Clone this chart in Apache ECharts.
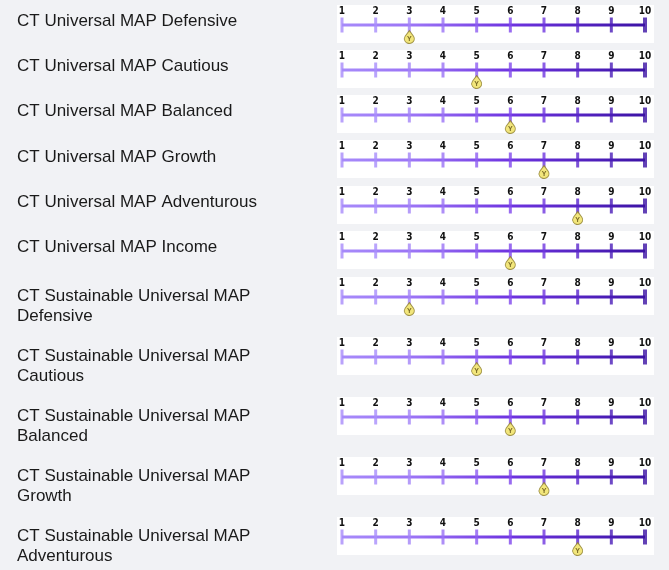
<!DOCTYPE html>
<html><head><meta charset="utf-8">
<script src="https://cdn.jsdelivr.net/npm/echarts@6/dist/echarts.min.js"></script>
<style>html,body{margin:0;padding:0;background:#f1f2f5;}#c{width:669px;height:570px;}</style>
</head><body><div id="c"></div>
<script>
const funds = [
  "CT Universal MAP Defensive",
  "CT Universal MAP Cautious",
  "CT Universal MAP Balanced",
  "CT Universal MAP Growth",
  "CT Universal MAP Adventurous",
  "CT Universal MAP Income",
  "CT Sustainable Universal MAP\nDefensive",
  "CT Sustainable Universal MAP\nCautious",
  "CT Sustainable Universal MAP\nBalanced",
  "CT Sustainable Universal MAP\nGrowth",
  "CT Sustainable Universal MAP\nAdventurous"
];
const riskLevels = [3, 5, 6, 7, 8, 6, 3, 5, 6, 7, 8];
const scaleTicks = [1, 2, 3, 4, 5, 6, 7, 8, 9, 10];
const markerText = "Y";

const tickColors = ["#a78bfa","#a88dfb","#a283f8","#9a72f5","#8d5cf1","#7f46ec","#6e34e0","#5a26cc","#4a1cb8","#3b12a4"];
const lineY = [25, 70, 115, 160, 206, 251, 297, 357, 417, 477, 537];
const textTop = [11, 56, 101, 147, 192, 237, 286, 346, 406, 466, 526];

const chart = echarts.init(document.getElementById('c'));
const grids = [], xAxes = [], yAxes = [], series = [], titles = [], graphics = [];
funds.forEach((name, i) => {
  const ly = lineY[i];
  grids.push({left: 342, width: 303, top: ly - 8, height: 16});
  xAxes.push({gridIndex: i, type: 'value', min: 1, max: 10, interval: 1, position: 'top',
    axisLine: {show: false}, axisTick: {show: false}, splitLine: {show: false},
    axisLabel: {margin: 1, color: '#111', fontSize: 10, fontWeight: 'bold', fontFamily: 'DejaVu Sans Condensed, DejaVu Sans'}});
  yAxes.push({gridIndex: i, type: 'value', min: -1, max: 1, show: false});
  graphics.push({type: 'rect', shape: {x: 337, y: ly - 20, width: 317, height: 38}, style: {fill: '#ffffff'}, z: -1});
  titles.push({text: name, left: 17, top: textTop[i], padding: 0,
    textStyle: {fontSize: 17, fontWeight: 'normal', color: '#1a1a1a', fontFamily: 'Liberation Sans, Arial', lineHeight: 20}});
  series.push({type: 'line', xAxisIndex: i, yAxisIndex: i, data: [[scaleTicks[0], 0], [scaleTicks[scaleTicks.length - 1], 0]],
    symbol: 'none', silent: true, z: 2,
    lineStyle: {width: 3, color: new echarts.graphic.LinearGradient(0, 0, 1, 0, [
      {offset: 0, color: tickColors[0]}, {offset: 0.25, color: tickColors[3]}, {offset: 0.55, color: tickColors[6]}, {offset: 1, color: tickColors[9]}])}});
  series.push({type: 'scatter', xAxisIndex: i, yAxisIndex: i, silent: true, z: 3,
    data: scaleTicks.map((t, k) => ({value: [t, 0], itemStyle: {color: tickColors[k]},
      symbolSize: k === scaleTicks.length - 1 ? [4, 15] : [3, 15]})),
    symbol: 'rect'});
  series.push({type: 'scatter', xAxisIndex: i, yAxisIndex: i, silent: true, z: 4,
    data: [[riskLevels[i], 0]],
    symbol: 'path://M10,0 L16,9 A7,7 0 1 1 4,9 Z', symbolKeepAspect: false, symbolSize: [10, 13], symbolOffset: [0, 12],
    itemStyle: {color: '#efe05a', borderColor: '#8c7d2a', borderWidth: 1},
    label: {show: true, formatter: markerText, position: 'inside', offset: [0, 2], fontSize: 7, fontWeight: 'bold', color: '#5a4a10'}});
});
chart.setOption({backgroundColor: '#f1f2f5', animation: false, title: titles, grid: grids, xAxis: xAxes, yAxis: yAxes, series: series, graphic: graphics});
</script></body></html>
